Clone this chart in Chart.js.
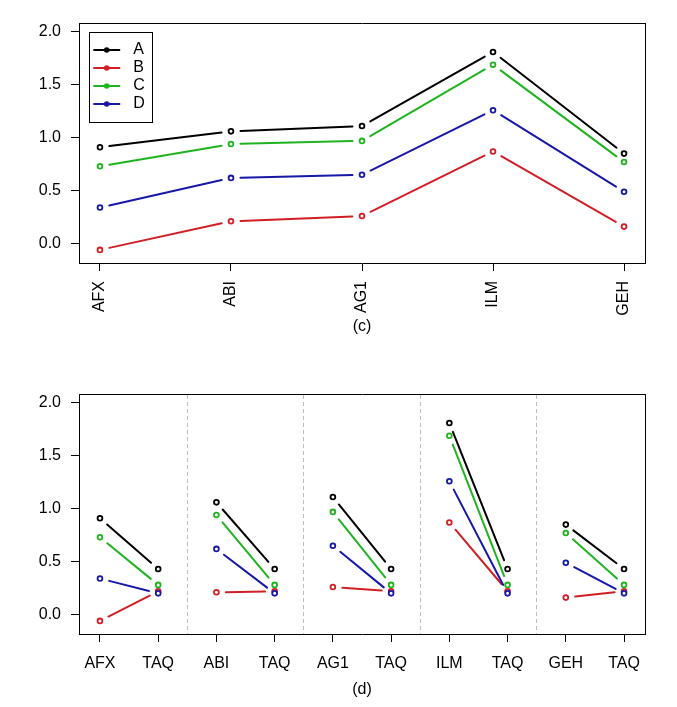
<!DOCTYPE html>
<html>
<head>
<meta charset="utf-8">
<script src="https://cdn.jsdelivr.net/npm/chart.js@4.4.1/dist/chart.umd.min.js"></script>
<style>
  html, body { margin: 0; padding: 0; background: #ffffff; width: 677px; height: 707px; overflow: hidden; }
  #c1 { position: absolute; left: 0; top: 0; }
  #c2 { position: absolute; left: 0; top: 353px; }
</style>
</head>
<body>
<canvas id="c1" width="677" height="353"></canvas>
<canvas id="c2" width="677" height="354"></canvas>
<script>
// ---------------- data ----------------
const seriesNames = ['A', 'B', 'C', 'D'];
const seriesColors = ['#000000', '#d11f26', '#1fb41f', '#1818a8'];
const categories = ['AFX', 'ABI', 'AG1', 'ILM', 'GEH'];
const valuesA = [0.91, 1.06, 1.11, 1.81, 0.85];
const valuesB = [-0.06, 0.21, 0.26, 0.87, 0.16];
const valuesC = [0.73, 0.94, 0.97, 1.69, 0.77];
const valuesD = [0.34, 0.62, 0.65, 1.26, 0.49];
const refLabel = 'TAQ';
const refA = [0.43, 0.43, 0.43, 0.43, 0.43];
const refB = [0.22, 0.22, 0.22, 0.22, 0.22];
const refC = [0.28, 0.28, 0.28, 0.28, 0.28];
const refD = [0.20, 0.20, 0.20, 0.20, 0.20];
const yTickValues = [0, 0.5, 1.0, 1.5, 2.0];
const yLimits = [-0.1, 2.0];
const panelTitles = ['(c)', '(d)'];

// ---------------- helpers ----------------
const FONT = "'Liberation Sans', Arial, Helvetica, sans-serif";
const FS = 16;
Chart.defaults.font.family = FONT;
Chart.defaults.font.size = FS;
Chart.defaults.color = '#000000';
Chart.defaults.animation = false;

function rRange(lo, hi) { const d = (hi - lo) * 0.04; return [lo - d, hi + d]; }
const [yMin, yMax] = rRange(yLimits[0], yLimits[1]);

const GAP = 9.5;
function segLen(c) { return Math.hypot(c.p1.x - c.p0.x, c.p1.y - c.p0.y); }
function gapOf(L) { return Math.max(0, Math.min(GAP, L / 2 - 0.5)); }
function gapSegment(color, pairsOnly) {
  return {
    borderDash: c => { const L = segLen(c); const g = gapOf(L); return [Math.max(L - 2 * g, 0.001), 2 * g]; },
    borderDashOffset: c => { const L = segLen(c); return L - gapOf(L); },
    borderColor: c => (pairsOnly && c.p0DataIndex % 2 === 1) ? 'rgba(0,0,0,0)' : color
  };
}

function makeDataset(i, data, pairsOnly) {
  const col = seriesColors[i];
  return {
    label: seriesNames[i], data,
    borderColor: col, backgroundColor: col, borderWidth: 2, borderCapStyle: 'round',
    fill: false, tension: 0,
    pointRadius: 2.4, pointHoverRadius: 2.4, pointBorderWidth: 1.8,
    pointBackgroundColor: '#ffffff', pointBorderColor: col,
    order: seriesNames.length - i,
    segment: gapSegment(col, pairsOnly)
  };
}

function legendSymbol(color) {
  const c = document.createElement('canvas');
  c.width = 40; c.height = 8;
  const g = c.getContext('2d');
  const cx = 23.55;
  g.strokeStyle = color; g.lineWidth = 2;
  g.beginPath(); g.moveTo(cx - 13.4, 4); g.lineTo(cx + 13.4, 4); g.stroke();
  g.fillStyle = color;
  g.beginPath(); g.arc(cx, 4, 2.8, 0, Math.PI * 2); g.fill();
  return c;
}

function yAxis() {
  return {
    type: 'linear', position: 'left', min: yMin, max: yMax,
    afterBuildTicks: s => { s.ticks = yTickValues.map(v => ({ value: v })); },
    afterFit: s => { s.width = 79; },
    ticks: { callback: v => Number(v).toFixed(1), padding: 10, color: '#000', font: { size: FS } },
    grid: { drawOnChartArea: false, drawTicks: true, tickLength: 8, color: '#000', lineWidth: 1 },
    border: { display: true, color: '#000', width: 1 }
  };
}
function frameAxis(pos, lo, hi) {
  const horiz = pos === 'top';
  return {
    type: 'linear', position: pos, min: lo, max: hi,
    ticks: { display: false },
    grid: { display: true, drawOnChartArea: false, drawTicks: false },
    border: { display: true, color: '#000', width: 1 },
    afterFit: s => { if (horiz) s.height = 0; else s.width = 0; }
  };
}

const legendFrame = {
  id: 'legendFrame',
  afterDraw(chart) {
    const lg = chart.legend;
    if (!lg || !lg.options.display || !lg.legendHitBoxes || !lg.legendHitBoxes.length) return;
    const hb = lg.legendHitBoxes;
    const l = Math.min(...hb.map(h => h.left)) + 8;
    const r = Math.max(...hb.map(h => h.left + h.width)) + 7;
    const t = Math.min(...hb.map(h => h.top)) - 10;
    const b = Math.max(...hb.map(h => h.top + h.height)) + 10;
    const ctx = chart.ctx;
    ctx.save();
    ctx.strokeStyle = '#000'; ctx.lineWidth = 1;
    ctx.strokeRect(Math.round(l) + 0.5, Math.round(t) + 0.5, Math.round(r - l), Math.round(b - t));
    ctx.restore();
  }
};

// ---------------- panel (c) ----------------
const idx1 = categories.map((_, i) => i + 1);
const [x1Min, x1Max] = rRange(1, categories.length);
const allValues = [valuesA, valuesB, valuesC, valuesD];

new Chart(document.getElementById('c1'), {
  type: 'line',
  data: {
    labels: idx1,
    datasets: allValues.map((v, i) => makeDataset(i, v, false))
  },
  options: {
    responsive: false, animation: false,
    layout: { padding: { left: 0, right: 32, top: 23, bottom: 17 } },
    plugins: {
      tooltip: { enabled: false },
      legend: {
        display: true, position: 'chartArea', align: 'start',
        title: { display: true, text: '', font: { size: 1 }, padding: { top: 38.8, bottom: 0 } },
        labels: {
          usePointStyle: true, pointStyleWidth: 44.3, padding: 2, color: '#000', font: { size: FS },
          generateLabels: chart => seriesNames.map((n, i) => ({
            text: n, pointStyle: legendSymbol(seriesColors[i]), fillStyle: seriesColors[i],
            strokeStyle: seriesColors[i], lineWidth: 0, hidden: false, datasetIndex: i, fontColor: '#000'
          }))
        }
      }
    },
    scales: {
      x: {
        type: 'linear', position: 'bottom', min: x1Min, max: x1Max,
        afterBuildTicks: s => { s.ticks = idx1.map(v => ({ value: v })); },
        afterFit: s => { s.height = 73; },
        ticks: { callback: v => categories[Math.round(v) - 1], autoSkip: false, minRotation: 90, maxRotation: 90, padding: 10, color: '#000', font: { size: FS } },
        grid: { drawOnChartArea: false, drawTicks: true, tickLength: 8, color: '#000', lineWidth: 1 },
        border: { display: true, color: '#000', width: 1 },
        title: { display: true, text: panelTitles[0], color: '#000', font: { size: FS }, padding: { top: 0, bottom: 0 } }
      },
      xTop: frameAxis('top', x1Min, x1Max),
      y: yAxis(),
      yRight: frameAxis('right', yMin, yMax)
    }
  },
  plugins: [legendFrame]
});

// ---------------- panel (d) ----------------
const pairLabels = categories.flatMap(c => [c, refLabel]);
const idx2 = pairLabels.map((_, i) => i + 1);
const [x2Min, x2Max] = rRange(1, pairLabels.length);
const allRefs = [refA, refB, refC, refD];
const groupBounds = categories.slice(1).map((_, g) => 2 * (g + 1) + 0.5);

new Chart(document.getElementById('c2'), {
  type: 'line',
  data: {
    labels: idx2,
    datasets: allValues.map((v, i) => makeDataset(i, v.flatMap((val, k) => [val, allRefs[i][k]]), true))
  },
  options: {
    responsive: false, animation: false,
    layout: { padding: { left: 0, right: 32, top: 41, bottom: 8 } },
    plugins: { tooltip: { enabled: false }, legend: { display: false } },
    scales: {
      x: {
        type: 'linear', position: 'bottom', min: x2Min, max: x2Max,
        afterBuildTicks: s => { s.ticks = idx2.map(v => ({ value: v })); },
        afterFit: s => { s.height = 65; },
        ticks: { callback: v => pairLabels[Math.round(v) - 1], autoSkip: false, maxRotation: 0, minRotation: 0, padding: 12, color: '#000', font: { size: FS } },
        grid: { drawOnChartArea: false, drawTicks: true, tickLength: 8, color: '#000', lineWidth: 1 },
        border: { display: true, color: '#000', width: 1 },
        title: { display: true, text: panelTitles[1], color: '#000', font: { size: FS }, padding: { top: 0, bottom: 0 } }
      },
      xTop: {
        type: 'linear', position: 'top', min: x2Min, max: x2Max,
        afterBuildTicks: s => { s.ticks = groupBounds.map(v => ({ value: v })); },
        afterFit: s => { s.height = 0; },
        ticks: { display: false },
        grid: { display: true, drawOnChartArea: true, drawTicks: false, color: '#bdbdbd', lineWidth: 1 },
        border: { display: true, color: '#000', width: 1, dash: [4, 3] }
      },
      y: yAxis(),
      yRight: frameAxis('right', yMin, yMax)
    }
  }
});
</script>
</body>
</html>
